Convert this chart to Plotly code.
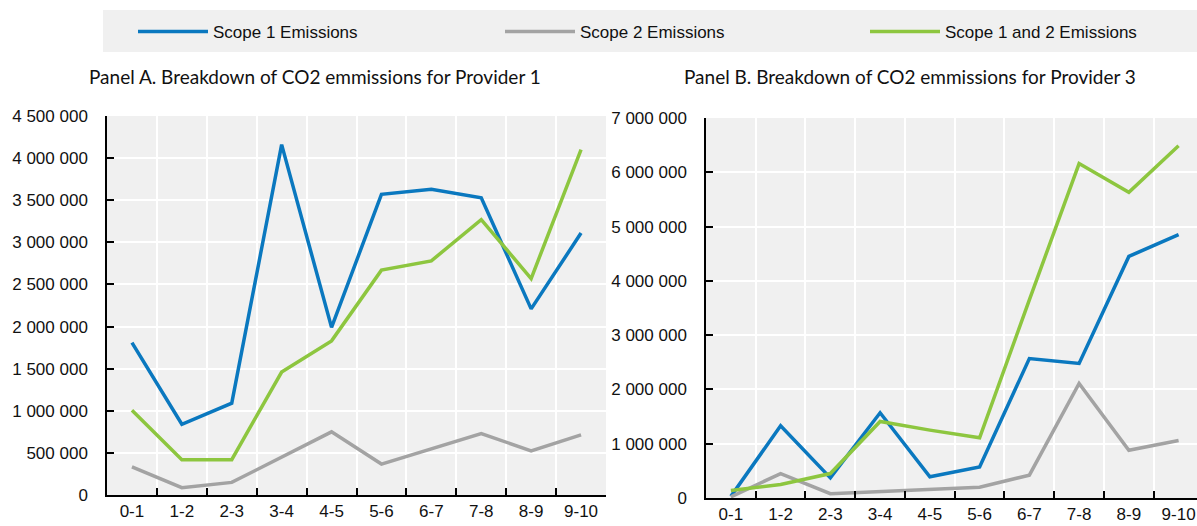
import plotly.graph_objects as go

categories = ["0-1", "1-2", "2-3", "3-4", "4-5", "5-6", "6-7", "7-8", "8-9", "9-10"]

# Panel A – Provider 1
a_scope1 = [1810000, 840000, 1090000, 4160000, 1990000, 3570000, 3630000, 3530000, 2210000, 3110000]
a_scope2 = [335000, 87000, 150000, 445000, 750000, 367000, 544000, 730000, 524000, 714000]
a_scope12 = [1005000, 420000, 420000, 1460000, 1830000, 2670000, 2780000, 3270000, 2570000, 4100000]

# Panel B – Provider 3
b_scope1 = [30000, 1330000, 370000, 1570000, 390000, 570000, 2570000, 2480000, 4450000, 4850000]
b_scope2 = [20000, 450000, 80000, 120000, 170000, 200000, 420000, 2110000, 880000, 1060000]
b_scope12 = [140000, 250000, 450000, 1410000, 1250000, 1110000, 3650000, 6160000, 5630000, 6490000]

series_names = ["Scope 1 Emissions", "Scope 2 Emissions", "Scope 1 and 2 Emissions"]
colors = ["#0a78bf", "#a3a3a3", "#8dc63f"]
legend_ids = ["legend", "legend2", "legend3"]

panel_titles = ["Panel A. Breakdown of CO2 emmissions for Provider 1",
                "Panel B. Breakdown of CO2 emmissions for Provider 3"]

W, H = 1197, 526
narrow = "Liberation Sans Narrow, Arial Narrow, Liberation Sans, Arial, sans-serif"
tick_font = dict(family=narrow, size=17, color="#111")

fig = go.Figure()
for i, (name, ys) in enumerate(zip(series_names, [a_scope1, a_scope2, a_scope12])):
    fig.add_trace(go.Scatter(x=categories, y=ys, mode="lines", name=name,
                             line=dict(color=colors[i], width=3.5),
                             xaxis="x", yaxis="y", legendgroup=name, showlegend=True,
                             legend=legend_ids[i]))
for i, (name, ys) in enumerate(zip(series_names, [b_scope1, b_scope2, b_scope12])):
    fig.add_trace(go.Scatter(x=categories, y=ys, mode="lines", name=name,
                             line=dict(color=colors[i], width=3.5),
                             xaxis="x2", yaxis="y2", legendgroup=name, showlegend=False))

common_x = dict(type="category", tickson="boundaries", ticks="inside", ticklen=7,
                tickcolor="black", tickwidth=1.5, showline=True, linecolor="black",
                linewidth=1.5, showgrid=True, gridcolor="white", gridwidth=1.5,
                tickfont=tick_font, zeroline=False, fixedrange=True, automargin=False)
common_y = dict(ticks="inside", ticklen=7, tickcolor="black", tickwidth=1.5,
                showline=True, linecolor="black", linewidth=1.5, showgrid=True,
                gridcolor="white", gridwidth=1.5, tickfont=tick_font, zeroline=False,
                tickformat=",d", ticklabelstandoff=14, automargin=False)

legend_font = dict(family=narrow, size=17, color="#111")
legend_x = [133, 500, 865]
legends = {}
for lid, lx in zip(legend_ids, legend_x):
    legends[lid] = dict(orientation="h", x=lx / W, xanchor="left", y=1 - 32 / H,
                        yanchor="middle", bgcolor="rgba(0,0,0,0)", itemwidth=70,
                        font=legend_font)

fig.update_layout(
    width=W, height=H,
    margin=dict(l=0, r=0, t=0, b=0),
    paper_bgcolor="white",
    plot_bgcolor="#f0f0f0",
    separators=". ",
    xaxis=dict(common_x, domain=[107 / W, 606 / W], range=[-0.5, 9.5], anchor="y"),
    yaxis=dict(common_y, domain=[1 - 495 / H, 1 - 116 / H], range=[0, 4500000],
               dtick=500000, anchor="x"),
    xaxis2=dict(common_x, domain=[706 / W, 1.0], range=[-0.5, 9.37], anchor="y2"),
    yaxis2=dict(common_y, domain=[1 - 498 / H, 1 - 118 / H], range=[0, 7000000],
                dtick=1000000, anchor="x2"),
    shapes=[dict(type="rect", xref="paper", yref="paper", x0=103 / W, x1=1.0,
                 y0=1 - 52 / H, y1=1 - 10 / H, fillcolor="#f0f0f0", line=dict(width=0),
                 layer="below")],
    annotations=[
        dict(text=panel_titles[0], xref="paper", yref="paper", x=315 / W, y=1 - 76 / H,
             xanchor="center", yanchor="middle", showarrow=False,
             font=dict(family="Lato, Carlito, Calibri, sans-serif", size=19, color="#111")),
        dict(text=panel_titles[1], xref="paper", yref="paper", x=910 / W, y=1 - 76 / H,
             xanchor="center", yanchor="middle", showarrow=False,
             font=dict(family="Lato, Carlito, Calibri, sans-serif", size=19, color="#111")),
    ],
    **legends,
)

fig.write_html("out.html", config={"displayModeBar": False},
               post_script="document.body.style.margin='0px';document.body.style.overflow='hidden';")
